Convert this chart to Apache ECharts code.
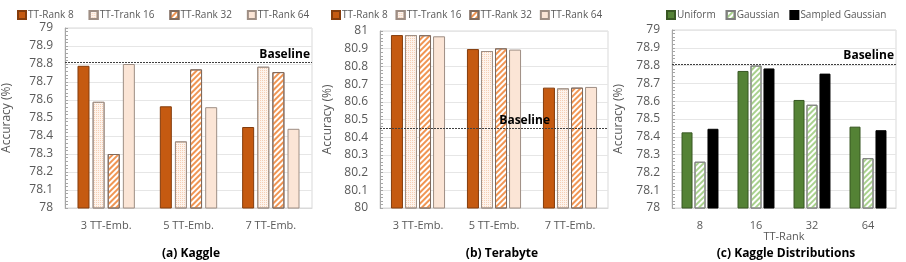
<!DOCTYPE html>
<html><head><meta charset="utf-8">
<script src="https://cdn.jsdelivr.net/npm/echarts@6/dist/echarts.min.js"></script>
<style>html,body{margin:0;padding:0;background:#fff}#c{width:906px;height:262px}</style>
</head><body><div id="c"></div>
<script>
const embCats = ['3 TT-Emb.', '5 TT-Emb.', '7 TT-Emb.'];
const rankNames = ['TT-Rank 8', 'TT-Trank 16', 'TT-Rank 32', 'TT-Rank 64'];
const kaggleR8 = [78.79, 78.565, 78.45];
const kaggleR16 = [78.59, 78.37, 78.785];
const kaggleR32 = [78.30, 78.77, 78.755];
const kaggleR64 = [78.80, 78.56, 78.44];
const kaggleBaseline = 78.806;
const teraR8 = [80.977, 80.898, 80.68];
const teraR16 = [80.977, 80.887, 80.676];
const teraR32 = [80.976, 80.902, 80.68];
const teraR64 = [80.970, 80.895, 80.684];
const teraBaseline = 80.448;
const rankCats = ['8', '16', '32', '64'];
const distNames = ['Uniform', 'Gaussian', 'Sampled Gaussian'];
const distUniform = [78.425, 78.77, 78.607, 78.457];
const distGaussian = [78.26, 78.80, 78.58, 78.28];
const distSampled = [78.445, 78.784, 78.755, 78.437];
const distBaseline = 78.807;
const yTicksKaggle = [78, 79, 0.1];
const yTicksTera = [80, 81, 0.1];

const FONT = 'Open Sans';
const GRAY = '#595959';

const rankStyles = [
  {color: '#C55A11', borderColor: '#843C0C', borderWidth: 1},
  {color: '#FDF3EC', borderColor: '#9E8E84', borderWidth: 1,
   decal: {symbol: 'rect', symbolSize: 1, dashArrayX: [1, 1], dashArrayY: [1, 1], color: '#F6CFB4'}},
  {color: '#FFFFFF', borderColor: '#7F6A5E', borderWidth: 1,
   decal: {symbol: 'rect', symbolSize: 1, dashArrayX: [1, 0], dashArrayY: [2, 2], rotation: -Math.PI / 4, color: '#F09553'}},
  {color: '#FBE5D6', borderColor: '#9E8E84', borderWidth: 1}
];
const distStyles = [
  {color: '#548235', borderColor: '#385723', borderWidth: 1},
  {color: '#FFFFFF', borderColor: '#7F7F7F', borderWidth: 1,
   decal: {symbol: 'rect', symbolSize: 1, dashArrayX: [1, 0], dashArrayY: [2, 2], rotation: -Math.PI / 4, color: '#A9D18E'}},
  {color: '#000000', borderColor: '#000000', borderWidth: 1}
];

const grids = [
  {left: 65, right: 594, top: 28, bottom: 54, show: true, borderColor: '#D9D9D9', borderWidth: 1},
  {left: 380, right: 298, top: 31, bottom: 54, show: true, borderColor: '#D9D9D9', borderWidth: 1},
  {left: 672, right: 10, top: 30, bottom: 54, show: true, borderColor: '#D9D9D9', borderWidth: 1}
];

function xAx(i, data, name) {
  return {type: 'category', gridIndex: i, data: data,
    axisLine: {lineStyle: {color: '#D9D9D9'}}, axisTick: {show: false},
    axisLabel: {color: GRAY, fontFamily: FONT, fontSize: 11, margin: 12},
    name: name || '', nameLocation: 'middle', nameGap: 23, nameMoveOverlap: false,
    nameTextStyle: {color: GRAY, fontFamily: FONT, fontSize: 11}};
}
function yAx(i, t, gap) {
  return {type: 'value', gridIndex: i, min: t[0], max: t[1], interval: t[2],
    axisLine: {show: true, lineStyle: {color: '#A6A6A6'}},
    axisTick: {show: true, inside: true, length: 3, lineStyle: {color: '#A6A6A6'}},
    minorTick: {show: true, splitNumber: 5, length: 3, lineStyle: {color: '#A6A6A6'}},
    splitLine: {lineStyle: {color: '#E6E6E6'}},
    axisLabel: {color: GRAY, fontFamily: FONT, fontSize: 12, margin: 12},
    name: 'Accuracy (%)', nameLocation: 'middle', nameGap: gap,
    nameTextStyle: {color: GRAY, fontFamily: FONT, fontSize: 12}};
}
function baseline(v, padRight) {
  return {silent: true, symbol: 'none',
    lineStyle: {type: [2, 1], color: '#404040', width: 1},
    label: {show: true, position: 'insideEndTop', formatter: 'Baseline', color: '#000',
      fontFamily: FONT, fontWeight: 'bold', fontSize: 12, padding: [0, padRight, 0, 0], distance: 2},
    data: [{yAxis: v}]};
}

const series = [];
const kData = [kaggleR8, kaggleR16, kaggleR32, kaggleR64];
const tData = [teraR8, teraR16, teraR32, teraR64];
const dData = [distUniform, distGaussian, distSampled];
kData.forEach((d, k) => series.push({type: 'bar', name: rankNames[k], xAxisIndex: 0, yAxisIndex: 0, data: d,
  barWidth: 12, barGap: '26%', itemStyle: rankStyles[k], markLine: k === 0 ? baseline(kaggleBaseline, 0) : undefined}));
tData.forEach((d, k) => series.push({type: 'bar', name: rankNames[k] + ' ', xAxisIndex: 1, yAxisIndex: 1, data: d,
  barWidth: 12, barGap: '17%', itemStyle: rankStyles[k], markLine: k === 0 ? baseline(teraBaseline, 56) : undefined}));
dData.forEach((d, k) => series.push({type: 'bar', name: distNames[k], xAxisIndex: 2, yAxisIndex: 2, data: d,
  barWidth: 11, barGap: '18%', itemStyle: distStyles[k], markLine: k === 0 ? baseline(distBaseline, 0) : undefined}));

const legendBase = {top: 5, itemWidth: 8, itemHeight: 8, itemGap: 15, icon: 'rect', width: 320,
  textStyle: {color: GRAY, fontFamily: FONT, fontSize: 10, padding: [0, 0, 0, -3]}};

const option = {
  animation: false,
  grid: grids,
  xAxis: [xAx(0, embCats), xAx(1, embCats), xAx(2, rankCats, 'TT-Rank')],
  yAxis: [yAx(0, yTicksKaggle, 52), yAx(1, yTicksTera, 46), yAx(2, yTicksKaggle, 47)],
  legend: [
    Object.assign({}, legendBase, {left: 12, data: rankNames}),
    Object.assign({}, legendBase, {left: 326, itemGap: 8, data: rankNames.map(n => n + ' '), formatter: n => n.trim()}),
    Object.assign({}, legendBase, {left: 661, itemGap: 10, data: distNames})
  ],
  title: [
    {text: '(a) Kaggle', left: 186, top: 243, textAlign: 'center'},
    {text: '(b) Terabyte', left: 497, top: 243, textAlign: 'center'},
    {text: '(c) Kaggle Distributions', left: 781, top: 243, textAlign: 'center'}
  ].map(t => Object.assign(t, {textStyle: {fontFamily: FONT, fontWeight: 'bold', fontSize: 12, color: '#000'}})),
  series: series
};
const chart = echarts.init(document.getElementById('c'), null, {renderer: 'canvas'});
chart.setOption(option);
</script></body></html>
